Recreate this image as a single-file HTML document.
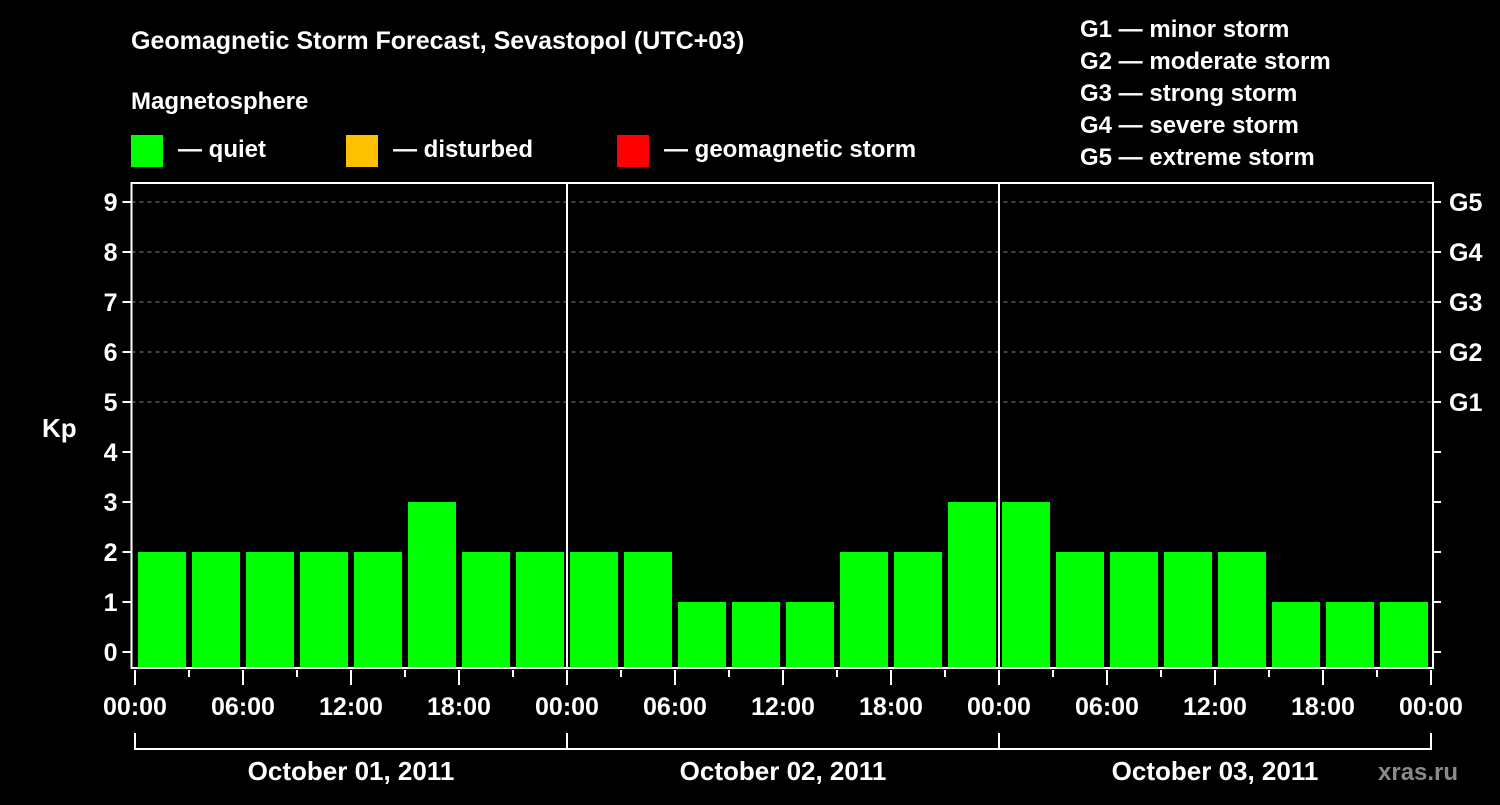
<!DOCTYPE html>
<html><head><meta charset="utf-8"><style>
body{margin:0;background:#000;width:1500px;height:800px;overflow:hidden;font-family:"Liberation Sans",Arial,sans-serif;}
svg text{font-family:"Liberation Sans",Arial,sans-serif;font-weight:bold;fill:#fff;}
</style></head><body>
<svg width="1500" height="800">
<text x="131" y="49" font-size="25">Geomagnetic Storm Forecast, Sevastopol (UTC+03)</text>
<text x="131" y="109" font-size="24">Magnetosphere</text>
<rect x="131" y="135" width="32" height="32" fill="#00ff00"/>
<text x="178" y="157" font-size="24">— quiet</text>
<rect x="346" y="135" width="32" height="32" fill="#ffc000"/>
<text x="393" y="157" font-size="24">— disturbed</text>
<rect x="617" y="135" width="32" height="32" fill="#ff0000"/>
<text x="664" y="157" font-size="24">— geomagnetic storm</text>
<g font-size="24">
<text x="1080" y="37">G1 — minor storm</text>
<text x="1080" y="69">G2 — moderate storm</text>
<text x="1080" y="101">G3 — strong storm</text>
<text x="1080" y="133">G4 — severe storm</text>
<text x="1080" y="165">G5 — extreme storm</text>
</g>
<text x="42" y="437" font-size="26">Kp</text>
<text x="1378" y="780" font-size="24" fill="#888" style="fill:#8a8a8a">xras.ru</text>
<g id="plot"></g>
</svg>
<script>
const kpValues=[2,2,2,2,2,3,2,2, 2,2,1,1,1,2,2,3, 3,2,2,2,2,1,1,1];
const dayLabels=["October 01, 2011","October 02, 2011","October 03, 2011"];
const hourLabels=["00:00","06:00","12:00","18:00"];
const gLabels=["G1","G2","G3","G4","G5"];
const NS="http://www.w3.org/2000/svg";
const g=document.getElementById('plot');
const L=131.5,R=1433,T=183,B=668,X0=135,SLOT=54;
const yS=v=>652-v*50;
const xS=i=>X0+i*SLOT;
function mk(t,a,p){const e=document.createElementNS(NS,t);for(const k in a)e.setAttribute(k,a[k]);(p||g).appendChild(e);return e;}
// grid
for(let v=5;v<=9;v++){const e=mk('line',{x1:L,x2:R,y1:yS(v),y2:yS(v),stroke:'#888','stroke-dasharray':'4,4','stroke-width':1});

}
// bars
kpValues.forEach((v,i)=>{const c=v>=5?'#ff0000':(v>=4?'#ffc000':'#00ff00');
const e=mk('rect',{x:xS(i)+3,y:yS(v),width:48,height:B-yS(v),fill:c});

});
// frame
const fr=mk('rect',{x:L,y:T,width:R-L,height:B-T,fill:'none',stroke:'#fff','stroke-width':2});


for(let d=1;d<dayLabels.length;d++){const e=mk('line',{x1:xS(d*8),x2:xS(d*8),y1:T,y2:B,stroke:'#fff','stroke-width':2});

}
// y ticks
for(let v=0;v<=9;v++){
mk('line',{x1:L-9,x2:L,y1:yS(v),y2:yS(v),stroke:'#fff','stroke-width':2});
mk('line',{x1:R,x2:R+8,y1:yS(v),y2:yS(v),stroke:'#fff','stroke-width':2});
const t=mk('text',{x:L-14,y:yS(v)+9,'font-size':25,'text-anchor':'end'});t.textContent=v;

}
gLabels.forEach((s,i)=>{const t=mk('text',{x:R+16,y:yS(i+5)+9,'font-size':25});t.textContent=s;

});
// x ticks
for(let i=0;i<=kpValues.length;i++){const major=i%2==0;
mk('line',{x1:xS(i),x2:xS(i),y1:B+2,y2:major?B+17:B+9,stroke:'#fff','stroke-width':2});
if(major){const t=mk('text',{x:xS(i),y:715,'font-size':25,'text-anchor':'middle'});t.textContent=hourLabels[(i/2)%4];

}}
// day brackets
dayLabels.forEach((s,d)=>{const a=xS(d*8),b=xS(d*8+8);
mk('path',{d:`M${a} 733V749H${b}V733`,fill:'none',stroke:'#fff','stroke-width':2});
const t=mk('text',{x:(a+b)/2,y:780,'font-size':26,'text-anchor':'middle'});t.textContent=s;

});
</script>
</body></html>
